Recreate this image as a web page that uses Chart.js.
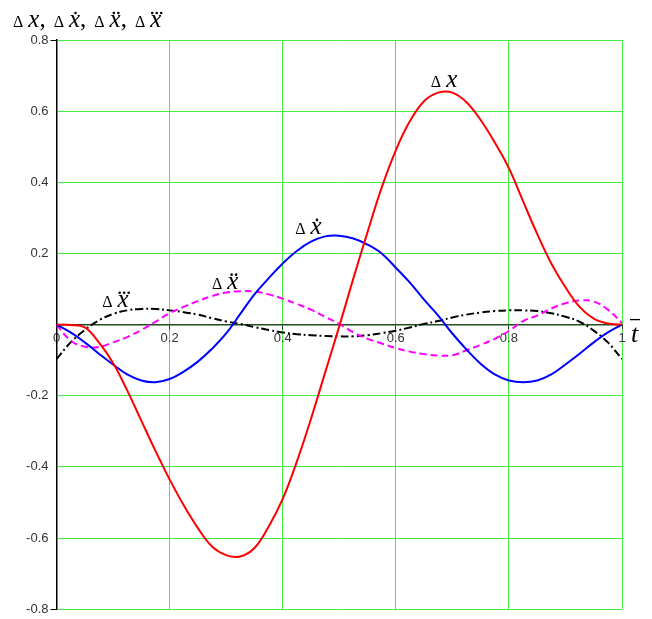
<!DOCTYPE html>
<html lang="en">
<head>
<meta charset="UTF-8">
<title>Delta x, t</title>
<script src="https://cdn.jsdelivr.net/npm/chart.js"></script>
<style>
  html, body { margin: 0; padding: 0; background: #fff; }
</style>
</head>
<body>
<canvas id="grafico" width="652" height="619"></canvas>
<script>
// tempo adimensional
const tempos = [0, 0.025, 0.05, 0.075, 0.1, 0.125, 0.15, 0.175, 0.2, 0.225,
  0.25, 0.275, 0.3, 0.325, 0.35, 0.375, 0.4, 0.425, 0.45, 0.475,
  0.5, 0.525, 0.55, 0.575, 0.6, 0.625, 0.65, 0.675, 0.7, 0.725,
  0.75, 0.775, 0.8, 0.825, 0.85, 0.875, 0.9, 0.925, 0.95, 0.975, 1];

// delta x (vermelho)
const deltaX = [0, -0.001, -0.008, -0.05, -0.108, -0.185, -0.27, -0.355, -0.435, -0.508,
  -0.572, -0.624, -0.648, -0.652, -0.628, -0.568, -0.49, -0.385, -0.265, -0.135,
  -0.005, 0.13, 0.26, 0.385, 0.49, 0.572, 0.628, 0.652, 0.652, 0.625,
  0.575, 0.512, 0.44, 0.347, 0.255, 0.172, 0.105, 0.05, 0.017, 0.003, 0];

// delta x ponto (azul)
const deltaV = [0, -0.022, -0.05, -0.082, -0.112, -0.14, -0.157, -0.162, -0.153, -0.132,
  -0.104, -0.068, -0.025, 0.03, 0.085, 0.13, 0.172, 0.207, 0.233, 0.248,
  0.25, 0.242, 0.225, 0.2, 0.16, 0.118, 0.07, 0.025, -0.025, -0.07,
  -0.11, -0.14, -0.157, -0.162, -0.157, -0.14, -0.112, -0.082, -0.05, -0.022, 0];

// delta x dois pontos (magenta)
const deltaA = [0, -0.045, -0.062, -0.063, -0.05, -0.035, -0.015, 0.008, 0.032, 0.05,
  0.066, 0.08, 0.09, 0.094, 0.093, 0.085, 0.073, 0.058, 0.042, 0.022,
  0.002, -0.022, -0.04, -0.053, -0.066, -0.076, -0.083, -0.087, -0.086, -0.072,
  -0.057, -0.04, -0.018, 0.01, 0.025, 0.045, 0.06, 0.068, 0.065, 0.042, 0.005];

// delta x tres pontos (preto)
const deltaJ = [-0.097, -0.05, -0.015, 0.012, 0.03, 0.04, 0.044, 0.044, 0.04, 0.035,
  0.028, 0.018, 0.009, 0.002, -0.007, -0.015, -0.022, -0.027, -0.03, -0.032,
  -0.033, -0.033, -0.03, -0.024, -0.017, -0.008, 0.002, 0.01, 0.02, 0.028,
  0.034, 0.038, 0.04, 0.04, 0.038, 0.032, 0.022, 0.008, -0.017, -0.05, -0.097];

const ticksX = [0, 0.2, 0.4, 0.6, 0.8, 1];
const ticksY = [-0.8, -0.6, -0.4, -0.2, 0, 0.2, 0.4, 0.6, 0.8];

function pares(valores) {
  return valores.map(function (v, i) { return { x: tempos[i], y: v }; });
}

// desenha "Δx" com pontos em cima do x
function desenhaDelta(ctx, x, base, pontos) {
  ctx.font = '16px "Liberation Serif"';
  ctx.fillText('\u0394', x, base);
  let xx = x + ctx.measureText('\u0394').width + 5;
  ctx.font = 'italic 25px "Liberation Serif"';
  ctx.fillText('x', xx, base);
  let w = ctx.measureText('x').width;
  let cx = xx + w / 2 + 1;
  for (let i = 0; i < pontos; i++) {
    let off = (i - (pontos - 1) / 2) * 4.5;
    ctx.beginPath();
    ctx.arc(cx + off, base - 14, 1.3, 0, 2 * Math.PI);
    ctx.fill();
  }
  return xx + w;
}

const rotulos = [
  { pontos: 0, t: 0.662, v: 0.668 },
  { pontos: 1, t: 0.422, v: 0.255 },
  { pontos: 2, t: 0.275, v: 0.101 },
  { pontos: 3, t: 0.081, v: 0.05 }
];

const textos = {
  id: 'textos',
  afterDatasetsDraw(chart) {
    const ctx = chart.ctx;
    const sx = chart.scales.x;
    const sy = chart.scales.y;
    ctx.save();
    ctx.fillStyle = '#000';
    ctx.textBaseline = 'alphabetic';
    ctx.textAlign = 'left';

    // titulo do eixo y
    let px = 13;
    for (let i = 0; i < 4; i++) {
      px = desenhaDelta(ctx, px, 27, i);
      if (i < 3) {
        ctx.font = '25px "Liberation Serif"';
        ctx.fillText(',', px, 27);
        px += ctx.measureText(',').width + 8;
      }
    }

    // rotulos das curvas
    for (const r of rotulos) {
      desenhaDelta(ctx, sx.getPixelForValue(r.t), sy.getPixelForValue(r.v), r.pontos);
    }

    // t com barra
    let tx = sx.getPixelForValue(1) + 9;
    let ty = sy.getPixelForValue(0) + 17;
    ctx.font = 'italic 26px "Liberation Serif"';
    ctx.fillText('t', tx, ty);
    ctx.strokeStyle = '#000';
    ctx.lineWidth = 1.3;
    ctx.beginPath();
    ctx.moveTo(tx - 1, ty - 22);
    ctx.lineTo(tx + 9, ty - 22);
    ctx.stroke();
    ctx.restore();
  }
};

const verde = 'rgb(70, 235, 70)';

new Chart(document.getElementById('grafico'), {
  type: 'line',
  data: {
    datasets: [
      { label: 'dx', data: pares(deltaX), borderColor: '#ff0000', borderWidth: 2 },
      { label: 'dv', data: pares(deltaV), borderColor: '#0000ff', borderWidth: 2 },
      { label: 'da', data: pares(deltaA), borderColor: '#ff00ff', borderWidth: 2, borderDash: [7, 4] },
      { label: 'dj', data: pares(deltaJ), borderColor: '#000000', borderWidth: 2, borderDash: [8, 3, 2, 3] }
    ]
  },
  options: {
    responsive: false,
    animation: false,
    layout: { padding: { left: 0, right: 30, top: 40, bottom: 9 } },
    elements: {
      point: { radius: 0 },
      line: { tension: 0.4, fill: false }
    },
    plugins: {
      legend: { display: false },
      tooltip: { enabled: false }
    },
    scales: {
      x: {
        type: 'linear',
        position: { y: 0 },
        min: 0,
        max: 1,
        afterBuildTicks: function (s) { s.ticks = ticksX.map(function (v) { return { value: v }; }); },
        grid: { color: verde, lineWidth: 1, tickColor: '#333', tickLength: 4 },
        border: { color: '#1f4f1f', width: 1.5 },
        ticks: {
          padding: 2,
          maxRotation: 0,
          color: '#333',
          font: { family: '"Liberation Sans"', size: 13 },
          callback: function (v) { return String(Math.round(v * 10) / 10); }
        }
      },
      y: {
        type: 'linear',
        min: -0.8,
        max: 0.8,
        afterBuildTicks: function (s) { s.ticks = ticksY.map(function (v) { return { value: v }; }); },
        afterFit: function (s) { s.width = 56.5; },
        grid: {
          color: verde,
          lineWidth: 1,
          tickLength: 6,
          tickColor: function (c) { return Math.abs(c.tick.value) > 0.79 ? '#000' : 'rgba(0,0,0,0)'; }
        },
        border: { color: '#000', width: 1.5 },
        ticks: {
          padding: 2,
          color: '#333',
          font: { family: '"Liberation Sans"', size: 13 },
          callback: function (v) {
            let r = Math.round(v * 10) / 10;
            return r === 0 ? '' : String(r);
          }
        }
      }
    }
  },
  plugins: [textos]
});
</script>
</body>
</html>
